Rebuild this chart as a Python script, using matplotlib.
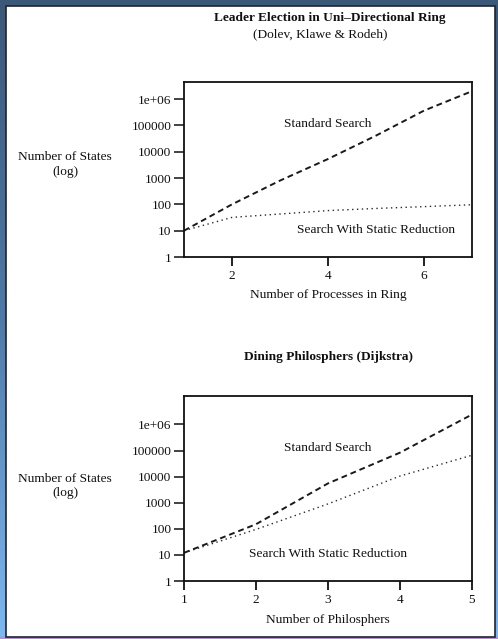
import numpy as np
import matplotlib
matplotlib.use("Agg")
import matplotlib.pyplot as plt
from matplotlib.colors import LinearSegmentedColormap
from matplotlib.patches import Rectangle

# ---- data -------------------------------------------------------------
ring_processes = [1, 2, 3, 4, 5, 6, 7]
ring_standard = [10, 100, 800, 5300, 41000, 365000, 2000000]
ring_static = [10, 32, 43, 58, 70, 82, 97]

phil_count = [1, 2, 3, 4, 5]
phil_standard = [12, 150, 5500, 83000, 2400000]
phil_static = [12, 95, 900, 10500, 66000]

ytick_values = [1, 10, 100, 1000, 10000, 100000, 1000000]
ytick_labels = ["1", "10", "100", "1000", "10000", "100000", "1e+06"]

ring_xticks = [2, 4, 6]
phil_xticks = [1, 2, 3, 4, 5]

# ---- figure -----------------------------------------------------------
W, H = 498, 639
plt.rcParams["font.family"] = ["Liberation Serif", "DejaVu Serif"]
FS = 9.6
INK = "#101010"

fig = plt.figure(figsize=(W / 100, H / 100), dpi=100)


def fx(px):
    return px / W


def fy(py):
    return 1 - py / H


# slide background: blue gradient with a white panel
bg = fig.add_axes([0, 0, 1, 1], zorder=-10)
cmap = LinearSegmentedColormap.from_list("slide", ["#3c5878", "#4f7aa8", "#7db8f2"])
bg.imshow(np.linspace(0, 1, 256).reshape(-1, 1), aspect="auto", cmap=cmap,
          extent=[0, W, H, 0])
bg.add_patch(Rectangle((0, 636.5), W, 3, color="#b890cc"))
bg.add_patch(Rectangle((6, 6), 488.5, 630.5, facecolor="white",
                       edgecolor="#1e2430", linewidth=1.2))
bg.set_xlim(0, W)
bg.set_ylim(H, 0)
bg.axis("off")


def style_axes(ax, xlim, ylim_top, xticks):
    ax.set_yscale("log")
    ax.set_xlim(*xlim)
    ax.set_ylim(1, ylim_top)
    ax.set_yticks(ytick_values)
    ax.set_yticklabels(ytick_labels)
    ax.yaxis.set_minor_locator(matplotlib.ticker.NullLocator())
    ax.set_xticks(xticks)
    ax.set_xticklabels([str(t) for t in xticks])
    ax.tick_params(axis="y", direction="out", length=7, width=1.1, pad=2,
                   labelsize=FS, colors=INK)
    ax.tick_params(axis="x", direction="out", length=6.5, width=1.3, pad=3,
                   labelsize=FS, colors=INK)
    for s in ax.spines.values():
        s.set_linewidth(1.3)
        s.set_color(INK)
    ax.set_facecolor("white")


# ---- Leader election ----------------------------------------------------
ax1 = fig.add_axes([fx(184), fy(257), fx(288), 175 / H])
style_axes(ax1, (1, 7), 10 ** 6.65, ring_xticks)
ax1.plot(ring_processes, ring_standard, color="#1a1a1a", lw=1.4,
         linestyle=(0, (3, 2)))
ax1.plot(ring_processes, ring_static, color="#2a2a2a", lw=1.0,
         linestyle=(0, (1, 2.5)))
ax1.text(4, 10 ** ((257 - 124.3) / 26.3), "Standard Search", ha="center",
         va="center", fontsize=FS, color=INK)
ax1.text(5, 10 ** ((257 - 230) / 26.3), "Search With Static Reduction",
         ha="center", va="center", fontsize=FS, color=INK)

fig.text(fx(330), fy(18), "Leader Election in Uni–Directional Ring",
         ha="center", va="center", fontsize=FS, fontweight="bold", color=INK)
fig.text(fx(320), fy(34), "(Dolev, Klawe & Rodeh)", ha="center",
         va="center", fontsize=FS, color=INK)
fig.text(fx(65), fy(157), "Number of States", ha="center", va="center",
         fontsize=FS, color=INK)
fig.text(fx(65), fy(172.5), "(log)", ha="center", va="center",
         fontsize=FS, color=INK)
fig.text(fx(328), fy(295), "Number of Processes in Ring", ha="center",
         va="center", fontsize=FS, color=INK)

# ---- Dining philosophers ---------------------------------------------
ax2 = fig.add_axes([fx(184), fy(581), fx(288), 185 / H])
style_axes(ax2, (1, 5), 10 ** 7.09, phil_xticks)
ax2.plot(phil_count, phil_standard, color="#1a1a1a", lw=1.4,
         linestyle=(0, (3, 2)))
ax2.plot(phil_count, phil_static, color="#2a2a2a", lw=1.0,
         linestyle=(0, (1, 2.5)))
ax2.text(3, 10 ** ((581 - 447.7) / 26.1), "Standard Search", ha="center",
         va="center", fontsize=FS, color=INK)
ax2.text(3, 10 ** ((581 - 554) / 26.1), "Search With Static Reduction",
         ha="center", va="center", fontsize=FS, color=INK)

fig.text(fx(328), fy(357), "Dining Philosphers (Dijkstra)", ha="center",
         va="center", fontsize=FS, fontweight="bold", color=INK)
fig.text(fx(65), fy(479), "Number of States", ha="center", va="center",
         fontsize=FS, color=INK)
fig.text(fx(65), fy(493), "(log)", ha="center", va="center",
         fontsize=FS, color=INK)
fig.text(fx(328), fy(620), "Number of Philosphers", ha="center",
         va="center", fontsize=FS, color=INK)

fig.savefig("out.png", dpi=100)
